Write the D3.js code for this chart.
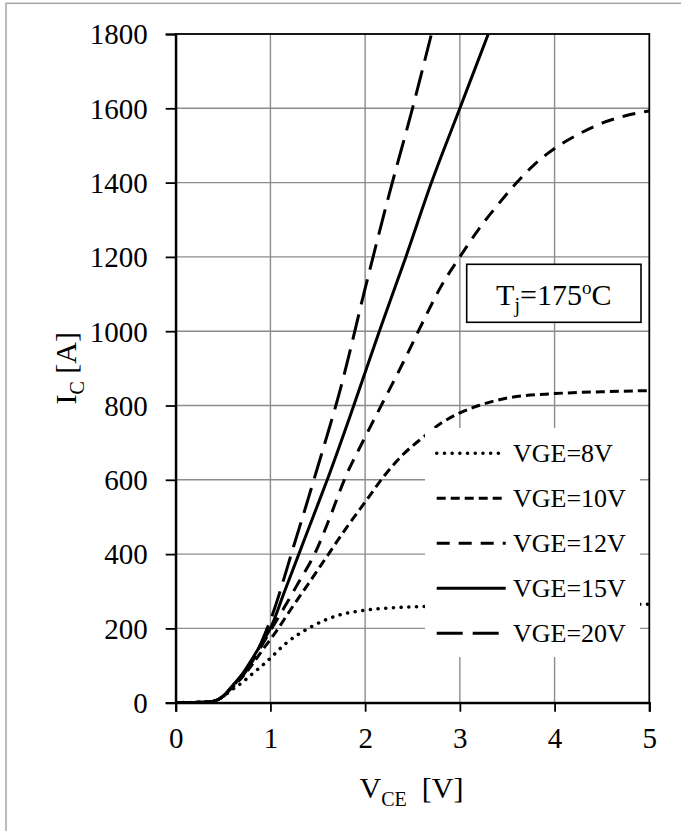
<!DOCTYPE html>
<html>
<head>
<meta charset="utf-8">
<script src="https://cdn.jsdelivr.net/npm/d3@7"></script>
<style>
  body { margin: 0; background: #fff; }
  svg text { font-family: "Liberation Serif", "Times New Roman", serif; fill: #000; }
</style>
</head>
<body>
<div id="vis"></div>
<script>
// output characteristic, Tj = 175 C  (VCE in V, IC in A)
const xTicks = [0, 1, 2, 3, 4, 5];
const yTicks = [0, 200, 400, 600, 800, 1000, 1200, 1400, 1600, 1800];
const seriesNames = ['VGE=8V', 'VGE=10V', 'VGE=12V', 'VGE=15V', 'VGE=20V'];

const lowPart = [[0, 0], [0.1, 0.3], [0.2, 0.8], [0.3, 1.5], [0.4, 4], [0.5, 17]];
const ic8V = lowPart.concat([[0.6, 36], [0.7, 54], [0.8, 76], [0.9, 97], [1.0, 120], [1.15, 157], [1.4, 200],
  [1.7, 234], [2.0, 249], [2.4, 257], [3.0, 261], [4.0, 263], [5.0, 265]]);
const ic10V = lowPart.concat([[0.6, 42], [0.7, 68], [0.8, 100], [0.94, 150], [1.05, 188], [1.225, 255], [1.4, 320],
  [1.6, 395], [1.8, 470], [2.0, 540], [2.2, 610], [2.4, 668], [2.6, 712], [2.8, 752], [3.0, 780], [3.2, 800],
  [3.5, 820], [4.0, 832], [4.5, 837], [5.0, 840]]);
const ic12V = lowPart.concat([[0.6, 44], [0.7, 72], [0.8, 108], [0.9, 150], [1.0, 194], [1.15, 258], [1.3, 325],
  [1.47, 402], [1.63, 500], [1.78, 600], [2.0, 715], [2.2, 815], [2.4, 915], [2.6, 1020], [2.8, 1120], [3.0, 1200],
  [3.2, 1275], [3.4, 1340], [3.6, 1400], [3.8, 1452], [4.0, 1492], [4.25, 1530], [4.5, 1560], [4.75, 1580], [5.0, 1593]]);
const ic15V = lowPart.concat([[0.6, 46], [0.7, 76], [0.8, 115], [0.9, 157], [1.0, 200], [1.15, 300], [1.3, 400],
  [1.45, 500], [1.6, 600], [1.88, 800], [2.15, 1000], [2.43, 1200], [2.7, 1400], [3.0, 1600], [3.3, 1800]]);
const ic20V = lowPart.concat([[0.6, 45], [0.7, 70], [0.8, 108], [0.9, 160], [1.0, 222], [1.25, 425], [1.5, 635],
  [1.75, 855], [2.0, 1115], [2.25, 1365], [2.5, 1600], [2.7, 1800]]);

const allSeries = [ic8V, ic10V, ic12V, ic15V, ic20V];
// line styles per series
const dashes = ['0.1,7.6', '9,5', '13,9', null, '26,10'];
const caps = ['round', 'butt', 'butt', 'butt', 'butt'];

const W = 681, H = 831;
const margin = {top: 34, right: 31.7, bottom: 128.3, left: 175.7};
const width = W - margin.left - margin.right;
const height = H - margin.top - margin.bottom;
const serif = '"Liberation Serif", "Times New Roman", serif';

const root = d3.select('#vis').append('svg')
    .attr('width', W)
    .attr('height', H);

// outer frame
root.append('rect')
    .attr('x', 6).attr('y', 3.3)
    .attr('width', W + 20).attr('height', H + 20)
    .attr('fill', 'none')
    .attr('stroke', '#a6a6a6')
    .attr('stroke-width', 1.5);

const svg = root.append('g')
    .attr('transform', `translate(${margin.left},${margin.top})`)
    .attr('font-family', serif);

const xScale = d3.scaleLinear().domain([0, 5]).range([0, width]);
const yScale = d3.scaleLinear().domain([0, 1800]).range([height, 0]);

// grid
svg.append('g')
    .selectAll('line')
    .data(xTicks.slice(1, -1))
    .join('line')
    .attr('x1', d => xScale(d)).attr('x2', d => xScale(d))
    .attr('y1', 0).attr('y2', height)
    .attr('stroke', '#8c8c8c').attr('stroke-width', 1.4);
svg.append('g')
    .selectAll('line')
    .data(yTicks.slice(1, -1))
    .join('line')
    .attr('y1', d => yScale(d)).attr('y2', d => yScale(d))
    .attr('x1', 0).attr('x2', width)
    .attr('stroke', '#8c8c8c').attr('stroke-width', 1.4);

svg.append('defs').append('clipPath').attr('id', 'clip')
    .append('rect').attr('width', width).attr('height', height);

const line = d3.line()
    .x(d => xScale(d[0]))
    .y(d => yScale(d[1]))
    .curve(d3.curveMonotoneX);

svg.append('g')
    .attr('clip-path', 'url(#clip)')
    .selectAll('path')
    .data(allSeries)
    .join('path')
    .attr('d', line)
    .attr('fill', 'none')
    .attr('stroke', '#000')
    .attr('stroke-width', (d, i) => i === 0 ? 3.5 : 3)
    .attr('stroke-linecap', (d, i) => caps[i])
    .attr('stroke-dasharray', (d, i) => dashes[i]);

// plot frame
svg.append('rect')
    .attr('width', width).attr('height', height)
    .attr('fill', 'none').attr('stroke', '#000').attr('stroke-width', 1.8);

// axes
const xAxis = svg.append('g')
    .attr('transform', `translate(0,${height})`)
    .call(d3.axisBottom(xScale).tickValues(xTicks).tickSize(9).tickPadding(16).tickFormat(d3.format('d')));
const yAxis = svg.append('g')
    .call(d3.axisLeft(yScale).tickValues(yTicks).tickSize(10).tickPadding(18).tickFormat(d3.format('d')));
[xAxis, yAxis].forEach(a => {
    a.attr('font-family', serif);
    a.select('.domain').attr('stroke', '#000').attr('stroke-width', 2.2);
    a.selectAll('.tick line').attr('stroke', '#000').attr('stroke-width', 1.8);
    a.selectAll('.tick text')
        .attr('font-family', serif)
        .style('font-size', '29px')
        .attr('fill', '#000');
});
yAxis.selectAll('.tick text').attr('dy', '0.34em');

// axis titles
const xt = svg.append('text')
    .attr('x', width / 2 - 1)
    .attr('y', height + 95)
    .attr('text-anchor', 'middle')
    .style('font-size', '30px');
xt.append('tspan').text('V');
xt.append('tspan').attr('dy', 8).style('font-size', '20px').text('CE');
xt.append('tspan').attr('dy', -8).text('\u00a0 [V]');

const yt = svg.append('text')
    .attr('transform', `translate(${76 - margin.left},${height / 2}) rotate(-90)`)
    .attr('text-anchor', 'middle')
    .style('font-size', '30px');
yt.append('tspan').text('I');
yt.append('tspan').attr('dy', 8).style('font-size', '20px').text('C');
yt.append('tspan').attr('dy', -8).text(' [A]');

// Tj box
const tj = svg.append('g');
tj.append('rect')
    .attr('x', 466.7 - margin.left).attr('y', 264.3 - margin.top)
    .attr('width', 174.3).attr('height', 58)
    .attr('fill', '#fff').attr('stroke', '#000').attr('stroke-width', 1.6);
const tjt = tj.append('text')
    .attr('x', 553.8 - margin.left)
    .attr('y', 304.5 - margin.top)
    .attr('text-anchor', 'middle')
    .style('font-size', '30px');
tjt.append('tspan').text('T');
tjt.append('tspan').attr('dy', 7).style('font-size', '20px').text('j');
tjt.append('tspan').attr('dy', -7).text('=175');
tjt.append('tspan').attr('dy', -11).style('font-size', '19px').text('o');
tjt.append('tspan').attr('dy', 11).text('C');

// legend
const lg = svg.append('g').attr('transform', `translate(${425 - margin.left},${428 - margin.top})`);
lg.append('rect').attr('width', 215).attr('height', 229).attr('fill', '#fff');
const items = lg.selectAll('g.item')
    .data(seriesNames)
    .join('g')
    .attr('class', 'item')
    .attr('transform', (d, i) => `translate(0,${25.3 + i * 45})`);
items.append('line')
    .attr('x1', 11.7).attr('x2', 80.7)
    .attr('stroke', '#000')
    .attr('stroke-width', (d, i) => i === 0 ? 3.5 : 3)
    .attr('stroke-linecap', (d, i) => caps[i])
    .attr('stroke-dasharray', (d, i) => dashes[i]);
items.append('text')
    .attr('x', 88)
    .attr('y', 9)
    .style('font-size', '26px')
    .text(d => d);
</script>
</body>
</html>
